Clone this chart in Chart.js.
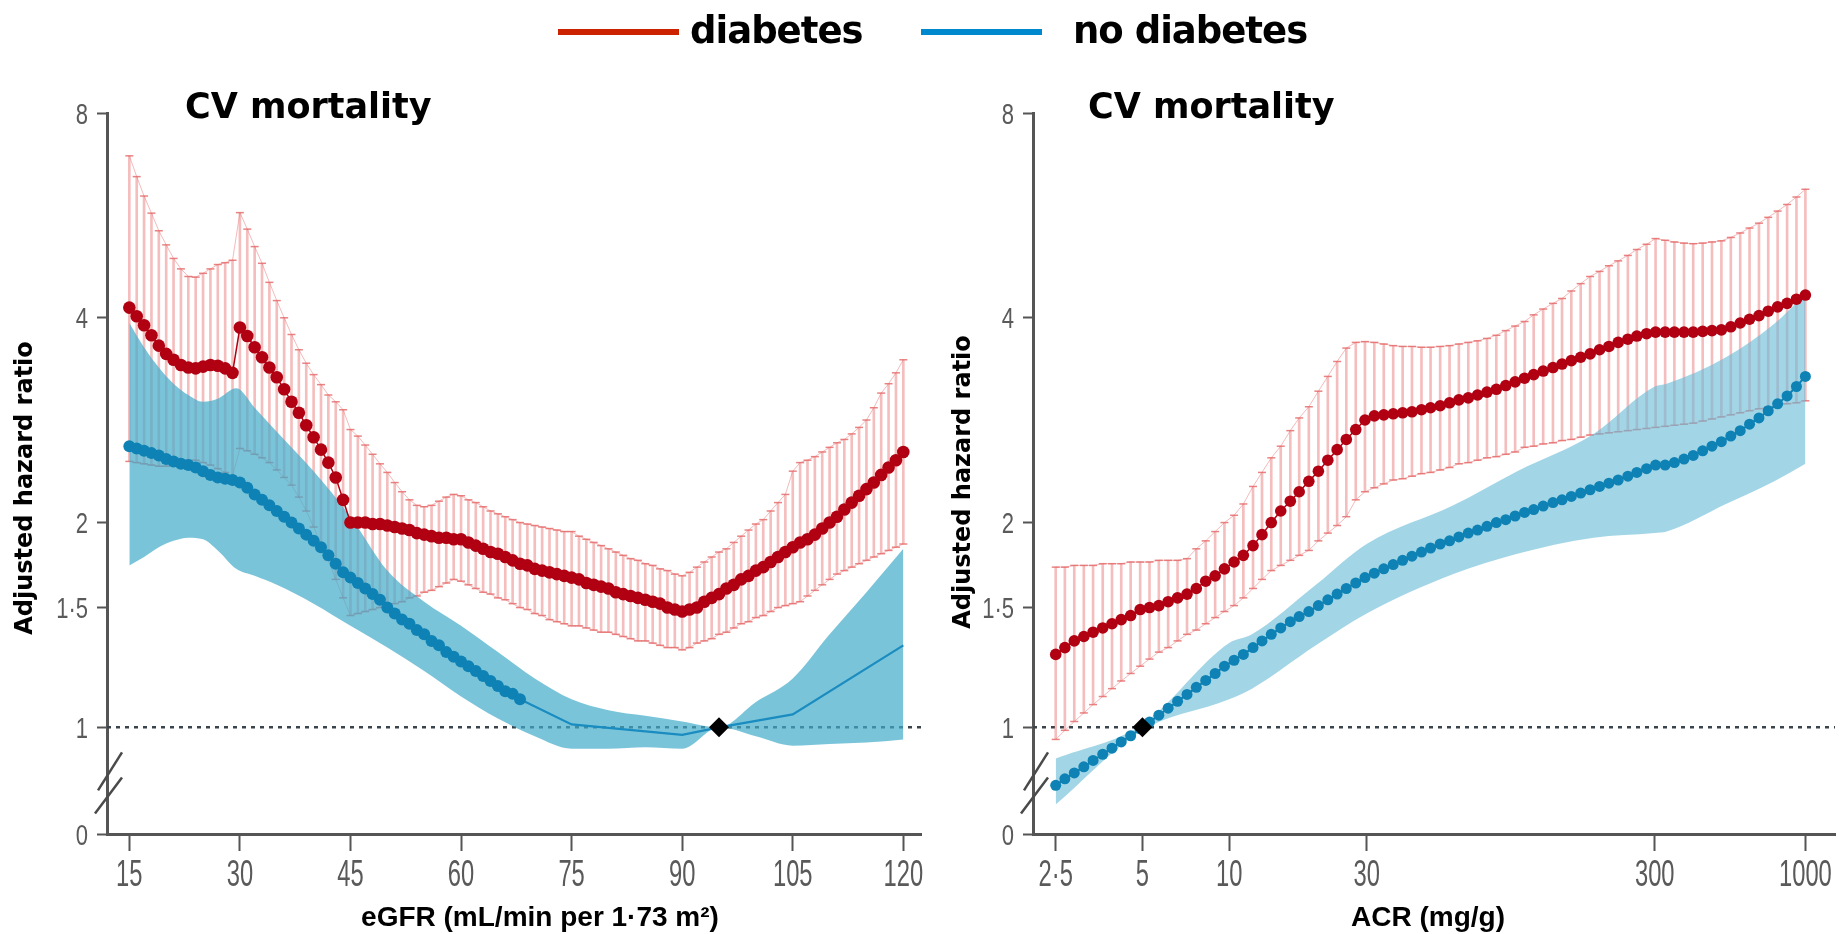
<!DOCTYPE html>
<html lang="en">
<head>
<meta charset="UTF-8">
<title>CV mortality - adjusted hazard ratio by eGFR and ACR</title>
<style>
  html, body { margin: 0; padding: 0; background: #fff; }
  body { width: 1845px; height: 934px; position: relative; overflow: hidden; }
  canvas { position: absolute; left: 0; top: 0; }
</style>
</head>
<body>
<canvas id="egfrChart" width="1845" height="934"></canvas>
<canvas id="acrChart" width="1845" height="934"></canvas>

<script src="https://cdn.jsdelivr.net/npm/chart.js"></script>
<script>
// ---------- data ----------
const yTickValues = [0.697, 1, 1.5, 2, 4, 8];      // bottom tick is the broken "0"
const yTickLabels = ['0', '1', '1·5', '2', '4', '8'];

// left panel: eGFR
const egfrTickValues = [15, 30, 45, 60, 75, 90, 105, 120];
const egfrTickLabels = ['15', '30', '45', '60', '75', '90', '105', '120'];

const egfr = [
  15, 16, 17, 18, 19, 20, 21, 22, 23, 24, 25, 26, 27, 28, 29,
  30, 31, 32, 33, 34, 35, 36, 37, 38, 39, 40, 41, 42, 43, 44,
  45, 46, 47, 48, 49, 50, 51, 52, 53, 54, 55, 56, 57, 58, 59,
  60, 61, 62, 63, 64, 65, 66, 67, 68, 69, 70, 71, 72, 73, 74,
  75, 76, 77, 78, 79, 80, 81, 82, 83, 84, 85, 86, 87, 88, 89,
  90, 91, 92, 93, 94, 95, 96, 97, 98, 99, 100, 101, 102, 103, 104,
  105, 106, 107, 108, 109, 110, 111, 112, 113, 114, 115, 116, 117, 118, 119, 120
];
const egfrDiabetesHR = [
  4.14, 4.02, 3.90, 3.77, 3.64, 3.54, 3.47, 3.41, 3.38, 3.37, 3.39, 3.41, 3.40, 3.37, 3.32,
  3.87, 3.76, 3.62, 3.50, 3.38, 3.27, 3.14, 3.01, 2.90, 2.78, 2.67, 2.56, 2.45, 2.33, 2.16,
  2.00, 2.00, 2.00, 1.99, 1.99, 1.98, 1.97, 1.96, 1.95, 1.93, 1.92, 1.91, 1.90, 1.90, 1.89,
  1.89, 1.87, 1.85, 1.83, 1.81, 1.80, 1.78, 1.76, 1.74, 1.73, 1.71, 1.70, 1.69, 1.68, 1.67,
  1.66, 1.65, 1.63, 1.62, 1.61, 1.60, 1.58, 1.57, 1.56, 1.55, 1.54, 1.53, 1.52, 1.50, 1.49,
  1.48, 1.49, 1.50, 1.53, 1.55, 1.57, 1.60, 1.62, 1.65, 1.67, 1.70, 1.72, 1.75, 1.78, 1.81,
  1.84, 1.87, 1.89, 1.92, 1.96, 2.00, 2.04, 2.09, 2.14, 2.19, 2.24, 2.29, 2.35, 2.41, 2.47, 2.54
];
const egfrDiabetesUpper = [
  6.92, 6.45, 6.04, 5.70, 5.37, 5.12, 4.89, 4.72, 4.60, 4.59, 4.65, 4.72, 4.79, 4.82, 4.86,
  5.71, 5.40, 5.09, 4.81, 4.51, 4.24, 4.00, 3.78, 3.59, 3.43, 3.30, 3.19, 3.08, 3.01, 2.93,
  2.74, 2.68, 2.60, 2.52, 2.44, 2.37, 2.29, 2.22, 2.16, 2.12, 2.11, 2.12, 2.15, 2.18, 2.20,
  2.19, 2.16, 2.14, 2.11, 2.08, 2.06, 2.04, 2.02, 2.00, 1.99, 1.98, 1.97, 1.96, 1.95, 1.94,
  1.94, 1.91, 1.89, 1.87, 1.85, 1.83, 1.81, 1.79, 1.77, 1.76, 1.74, 1.73, 1.71, 1.70, 1.68,
  1.67, 1.69, 1.72, 1.75, 1.78, 1.81, 1.83, 1.87, 1.91, 1.95, 1.99, 2.02, 2.08, 2.14, 2.20,
  2.38, 2.45, 2.47, 2.50, 2.54, 2.58, 2.62, 2.65, 2.70, 2.76, 2.83, 2.95, 3.10, 3.20, 3.32, 3.47
];
const egfrDiabetesLower = [
  2.46, 2.45, 2.44, 2.43, 2.42, 2.42, 2.43, 2.45, 2.47, 2.47, 2.45, 2.43, 2.40, 2.37, 2.34,
  2.57, 2.55, 2.52, 2.49, 2.45, 2.39, 2.33, 2.27, 2.18, 2.08, 1.97, 1.86, 1.76, 1.65, 1.55,
  1.46, 1.47, 1.48, 1.49, 1.50, 1.51, 1.52, 1.53, 1.55, 1.56, 1.58, 1.59, 1.61, 1.63, 1.65,
  1.64, 1.62, 1.60, 1.58, 1.57, 1.55, 1.54, 1.52, 1.50, 1.49, 1.47, 1.46, 1.44, 1.43, 1.42,
  1.41, 1.41, 1.40, 1.39, 1.38, 1.38, 1.37, 1.36, 1.35, 1.34, 1.34, 1.33, 1.32, 1.31, 1.31,
  1.30, 1.31, 1.33, 1.34, 1.35, 1.37, 1.38, 1.40, 1.42, 1.43, 1.45, 1.46, 1.48, 1.50, 1.51,
  1.52, 1.53, 1.56, 1.59, 1.62, 1.65, 1.68, 1.70, 1.72, 1.74, 1.76, 1.78, 1.80, 1.82, 1.84, 1.86
];

const egfrNoDiabetesX = [
  15, 16, 17, 18, 19, 20, 21, 22, 23, 24, 25, 26, 27, 28, 29,
  30, 31, 32, 33, 34, 35, 36, 37, 38, 39, 40, 41, 42, 43, 44,
  45, 46, 47, 48, 49, 50, 51, 52, 53, 54, 55, 56, 57, 58, 59,
  60, 61, 62, 63, 64, 65, 66, 67, 68
];
const egfrNoDiabetesHR = [
  2.59, 2.57, 2.55, 2.53, 2.51, 2.48, 2.46, 2.44, 2.43, 2.41, 2.38, 2.35, 2.33, 2.32, 2.31,
  2.29, 2.25, 2.20, 2.16, 2.12, 2.08, 2.04, 2.00, 1.96, 1.92, 1.88, 1.84, 1.79, 1.74, 1.69,
  1.66, 1.63, 1.60, 1.57, 1.54, 1.50, 1.47, 1.44, 1.42, 1.39, 1.37, 1.34, 1.32, 1.29, 1.27,
  1.25, 1.23, 1.21, 1.19, 1.17, 1.15, 1.13, 1.12, 1.10
];
const egfrNoDiabetesLineX = [68, 75, 90, 95, 105, 120];
const egfrNoDiabetesLineHR = [1.10, 1.01, 0.975, 1.0, 1.045, 1.32];

const egfrBandX = [15, 17, 19, 21, 23, 25, 27, 29.5, 32, 35, 40, 45, 50, 55, 60, 65, 70, 75, 80, 85, 90, 95, 100, 105, 110, 115, 120];
const egfrBandUpper = [3.93, 3.62, 3.38, 3.20, 3.08, 3.01, 3.04, 3.15, 2.95, 2.72, 2.38, 2.04, 1.70, 1.53, 1.41, 1.29, 1.18, 1.10, 1.06, 1.04, 1.02, 1.00, 1.09, 1.18, 1.37, 1.58, 1.83];
const egfrBandLower = [1.73, 1.78, 1.84, 1.88, 1.90, 1.89, 1.82, 1.71, 1.67, 1.62, 1.52, 1.41, 1.31, 1.21, 1.11, 1.03, 0.97, 0.93, 0.93, 0.935, 0.93, 1.00, 0.97, 0.94, 0.945, 0.95, 0.96];
const egfrReference = 95;

// right panel: ACR
const acrTickValues = [2.5, 5, 10, 30, 300, 1000];
const acrTickLabels = ['2·5', '5', '10', '30', '300', '1000'];

const acr = [
  2.5, 2.69, 2.9, 3.13, 3.37, 3.64, 3.92, 4.22, 4.55, 4.91,
  5.29, 5.7, 6.14, 6.62, 7.14, 7.69, 8.29, 8.94, 9.63, 10.4,
  11.2, 12.1, 13, 14, 15.1, 16.3, 17.5, 18.9, 20.4, 22,
  23.7, 25.5, 27.5, 29.6, 31.9, 34.4, 37.1, 40, 43.1, 46.5,
  50, 54, 58.2, 62.7, 67.6, 72.8, 78.5, 84.6, 91.2, 98.3,
  106, 114, 123, 133, 143, 154, 166, 179, 193, 208,
  224, 242, 260, 281, 302, 326, 351, 379, 408, 440,
  474, 511, 551, 594, 640, 690, 743, 801, 864, 931, 1000
];
const acrDiabetesHR = [
  1.28, 1.31, 1.34, 1.36, 1.38, 1.40, 1.42, 1.44, 1.46, 1.49,
  1.50, 1.51, 1.53, 1.55, 1.57, 1.60, 1.64, 1.67, 1.71, 1.75,
  1.79, 1.85, 1.92, 2.00, 2.08, 2.15, 2.22, 2.30, 2.38, 2.47,
  2.56, 2.65, 2.74, 2.83, 2.87, 2.88, 2.89, 2.90, 2.91, 2.93,
  2.95, 2.97, 3.00, 3.03, 3.05, 3.08, 3.11, 3.14, 3.18, 3.22,
  3.26, 3.30, 3.34, 3.38, 3.42, 3.46, 3.50, 3.54, 3.59, 3.63,
  3.68, 3.72, 3.76, 3.79, 3.81, 3.81, 3.81, 3.81, 3.81, 3.82,
  3.83, 3.84, 3.88, 3.93, 3.98, 4.03, 4.09, 4.15, 4.20, 4.26, 4.32
];
const acrDiabetesUpper = [
  1.72, 1.72, 1.73, 1.73, 1.73, 1.74, 1.74, 1.74, 1.75, 1.75,
  1.75, 1.76, 1.76, 1.76, 1.77, 1.83, 1.88, 1.94, 2.00, 2.05,
  2.13, 2.26, 2.37, 2.49, 2.59, 2.73, 2.85, 2.96, 3.12, 3.28,
  3.45, 3.61, 3.68, 3.69, 3.68, 3.66, 3.64, 3.63, 3.63, 3.62,
  3.62, 3.63, 3.64, 3.66, 3.68, 3.70, 3.73, 3.77, 3.83, 3.89,
  3.95, 4.04, 4.12, 4.20, 4.27, 4.38, 4.49, 4.60, 4.68, 4.77,
  4.85, 4.94, 5.04, 5.13, 5.23, 5.20, 5.17, 5.15, 5.14, 5.15,
  5.17, 5.19, 5.25, 5.33, 5.42, 5.51, 5.62, 5.74, 5.87, 6.02, 6.18
];
const acrDiabetesLower = [
  0.96, 0.99, 1.02, 1.05, 1.08, 1.11, 1.14, 1.17, 1.20, 1.23,
  1.26, 1.29, 1.31, 1.34, 1.37, 1.39, 1.42, 1.45, 1.48, 1.51,
  1.55, 1.60, 1.65, 1.70, 1.73, 1.76, 1.79, 1.82, 1.88, 1.93,
  1.98, 2.04, 2.16, 2.22, 2.25, 2.28, 2.31, 2.32, 2.34, 2.36,
  2.37, 2.39, 2.41, 2.44, 2.45, 2.47, 2.49, 2.50, 2.52, 2.54,
  2.58, 2.59, 2.61, 2.62, 2.64, 2.65, 2.67, 2.69, 2.70, 2.71,
  2.72, 2.73, 2.74, 2.75, 2.76, 2.77, 2.78, 2.79, 2.80, 2.82,
  2.84, 2.86, 2.88, 2.90, 2.92, 2.94, 2.96, 2.97, 2.99, 3.00, 3.02
];
const acrNoDiabetesHR = [
  0.822, 0.84, 0.857, 0.875, 0.894, 0.913, 0.932, 0.952, 0.972, 0.995,
  1.018, 1.042, 1.067, 1.092, 1.118, 1.145, 1.172, 1.20, 1.23, 1.255,
  1.28, 1.31, 1.34, 1.37, 1.40, 1.43, 1.455, 1.48, 1.51, 1.54,
  1.57, 1.60, 1.63, 1.66, 1.685, 1.71, 1.735, 1.76, 1.785, 1.81,
  1.835, 1.86, 1.88, 1.905, 1.93, 1.95, 1.975, 2.00, 2.02, 2.045,
  2.07, 2.09, 2.115, 2.14, 2.16, 2.185, 2.21, 2.235, 2.26, 2.285,
  2.31, 2.34, 2.37, 2.40, 2.43, 2.43, 2.45, 2.48, 2.51, 2.55,
  2.59, 2.63, 2.68, 2.73, 2.79, 2.85, 2.92, 2.99, 3.07, 3.17, 3.28
];
const acrBandX = [2.5, 5, 10, 12, 20, 30, 60, 100, 184, 300, 330, 530, 780, 1000];
const acrBandUpper = [0.90, 1.01, 1.33, 1.37, 1.62, 1.86, 2.12, 2.38, 2.70, 3.17, 3.20, 3.50, 3.92, 4.34];
const acrBandLower = [0.77, 0.99, 1.10, 1.14, 1.32, 1.47, 1.68, 1.80, 1.90, 1.93, 1.94, 2.13, 2.30, 2.44];
const acrReference = 5;

// ---------- drawing ----------
const axisGrey = '#555';

// tick labels (condensed, like the printed figure), titles, legend and the axis break
const panelText = {
  id: 'panelText',
  afterDraw(chart, args, o) {
    const { ctx, chartArea: a } = chart;
    const xs = chart.scales.x;
    const ys = chart.scales.y;
    ctx.save();

    // broken axis "//" between 1 and 0
    ctx.strokeStyle = '#4a4a4a';
    ctx.lineWidth = 2.5;
    [[0.808, 0.919, 9], [0.747, 0.844, 12]].forEach(([v0, v1, dx]) => {
      ctx.beginPath();
      ctx.moveTo(a.left - dx, ys.getPixelForValue(v0));
      ctx.lineTo(a.left + 15, ys.getPixelForValue(v1));
      ctx.stroke();
    });

    // tick labels taken from the scales
    ctx.fillStyle = '#5a5a5a';
    ctx.textBaseline = 'alphabetic';
    ctx.textAlign = 'center';
    ctx.font = '36px "Liberation Sans"';
    xs.ticks.forEach((t, i) => {
      ctx.save();
      ctx.translate(xs.getPixelForTick(i), a.bottom + 52);
      ctx.scale(0.66, 1);
      ctx.fillText(t.label, 0, 0);
      ctx.restore();
    });
    ctx.textAlign = 'right';
    ctx.font = '29px "Liberation Sans"';
    ys.ticks.forEach((t, i) => {
      ctx.save();
      ctx.translate(a.left - 19, ys.getPixelForTick(i) + 10.5);
      ctx.scale(0.76, 1);
      ctx.fillText(t.label, 0, 0);
      ctx.restore();
    });

    ctx.fillStyle = '#000';
    ctx.textAlign = 'left';
    ctx.font = 'bold 35px "DejaVu Sans"';
    ctx.fillText(o.title, o.titleX, 118);

    ctx.textAlign = 'center';
    ctx.font = 'bold 28px "Liberation Sans"';
    ctx.fillText(o.xTitle, o.xTitleX, 926);

    ctx.save();
    ctx.translate(o.yTitleX, o.yTitleY);
    ctx.rotate(-Math.PI / 2);
    ctx.textBaseline = 'middle';
    ctx.font = 'bold 24px "DejaVu Sans"';
    ctx.fillText('Adjusted hazard ratio', 0, 0);
    ctx.restore();

    if (o.legend) {
      ctx.fillStyle = '#cc2200';
      ctx.fillRect(558, 29, 121, 6);
      ctx.fillStyle = '#0088cc';
      ctx.fillRect(921, 29, 121, 6);
      ctx.fillStyle = '#000';
      ctx.textAlign = 'left';
      ctx.font = 'bold 37px "DejaVu Sans"';
      ctx.letterSpacing = '-1px';
      ctx.fillText('diabetes', 690, 43);
      ctx.fillText('no diabetes', 1073, 43);
    }
    ctx.restore();
  }
};

function points(xs, ys) {
  return xs.map((x, i) => ({ x, y: ys[i] }));
}

function buildPanel(canvasId, p) {
  const datasets = [
    { // reference HR = 1
      type: 'line', data: [{ x: p.xMin, y: 1 }, { x: p.xMax, y: 1 }],
      borderColor: '#3a444d', borderWidth: 2.5, borderDash: [4, 5], pointRadius: 0, order: 9
    },
    { // diabetes 95% CI bars
      type: 'bar', data: p.x.map((x, i) => ({ x, y: [p.lo[i], p.hi[i]] })),
      backgroundColor: 'rgba(232,110,110,0.45)', borderWidth: 0, barThickness: 2, order: 8
    },
    { // upper caps
      type: 'line', data: points(p.x, p.hi),
      borderColor: 'rgba(232,120,120,0.5)', borderWidth: 1,
      pointStyle: 'line', pointRadius: 4, pointBorderWidth: 1.5, pointBorderColor: 'rgba(230,110,110,0.85)', order: 7
    },
    { // lower caps
      type: 'line', data: points(p.x, p.lo),
      borderColor: 'rgba(232,120,120,0.5)', borderWidth: 1,
      pointStyle: 'line', pointRadius: 4, pointBorderWidth: 1.5, pointBorderColor: 'rgba(230,110,110,0.85)', order: 7
    },
    { // no diabetes CI band, upper edge
      type: 'line', data: points(p.bandX, p.bandHi),
      borderColor: 'transparent', borderWidth: 0, pointRadius: 0, fill: false,
      cubicInterpolationMode: 'monotone', order: 6
    },
    { // lower edge, filled up to the upper edge
      type: 'line', data: points(p.bandX, p.bandLo),
      borderColor: 'transparent', borderWidth: 0, pointRadius: 0, fill: '-1',
      backgroundColor: p.bandColor, cubicInterpolationMode: 'monotone', order: 6
    }
  ];
  if (p.lineX) {
    datasets.push({
      type: 'line', data: points(p.lineX, p.lineHR),
      borderColor: '#1a8cc0', borderWidth: 2.2, pointRadius: 0, order: 5
    });
  }
  datasets.push(
    { // no diabetes
      type: 'line', data: points(p.blueX, p.blueHR),
      borderColor: '#0e82b4', borderWidth: 2, pointRadius: p.blueRadius, pointBackgroundColor: '#0e82b4',
      pointBorderWidth: 0, order: 4
    },
    { // diabetes
      type: 'line', data: points(p.x, p.hr),
      borderColor: '#b00012', borderWidth: 1.5, pointRadius: p.redRadius, pointBackgroundColor: '#b00012',
      pointBorderWidth: 0, order: 3
    },
    { // reference point
      type: 'line', data: [{ x: p.refX, y: 1 }],
      pointStyle: 'rectRot', pointRadius: 10, pointBackgroundColor: '#000', pointBorderWidth: 0,
      showLine: false, order: 1
    }
  );

  return new Chart(document.getElementById(canvasId), {
    type: 'line',
    data: { datasets },
    plugins: [panelText],
    options: {
      responsive: false,
      animation: false,
      events: [],
      layout: { padding: { top: 113, right: p.padRight, bottom: 0, left: 0 } },
      plugins: {
        legend: { display: false },
        tooltip: { enabled: false },
        panelText: p.text
      },
      scales: {
        x: {
          type: p.xType, min: p.xMin, max: p.xMax, offset: false,
          afterBuildTicks: s => { s.ticks = p.xTicks.map(v => ({ value: v })); },
          afterFit: s => { s.height = 100; },
          ticks: { display: false, callback: (v, i) => p.xLabels[i], autoSkip: false, maxRotation: 0 },
          grid: {
            offset: false, drawOnChartArea: false, drawTicks: true,
            tickLength: 17, tickWidth: 2, tickColor: axisGrey
          },
          border: { display: true, color: axisGrey, width: 3 }
        },
        y: {
          type: 'logarithmic', min: 0.697, max: 8,
          afterBuildTicks: s => { s.ticks = yTickValues.map(v => ({ value: v })); },
          afterFit: s => { s.width = p.axisLeft; },
          ticks: { display: false, callback: (v, i) => yTickLabels[i], autoSkip: false },
          grid: {
            offset: false, drawOnChartArea: false, drawTicks: true,
            tickLength: 10, tickWidth: 2, tickColor: axisGrey
          },
          border: { display: true, color: axisGrey, width: 3 }
        }
      }
    }
  });
}

buildPanel('egfrChart', {
  x: egfr, hr: egfrDiabetesHR, hi: egfrDiabetesUpper, lo: egfrDiabetesLower,
  blueX: egfrNoDiabetesX, blueHR: egfrNoDiabetesHR,
  lineX: egfrNoDiabetesLineX, lineHR: egfrNoDiabetesLineHR,
  bandX: egfrBandX, bandHi: egfrBandUpper, bandLo: egfrBandLower,
  bandColor: 'rgba(65,171,202,0.7)',
  refX: egfrReference, redRadius: 6.3, blueRadius: 6,
  xType: 'linear', xMin: 11.97, xMax: 122.4, xTicks: egfrTickValues, xLabels: egfrTickLabels,
  axisLeft: 107, padRight: 924,
  text: {
    title: 'CV mortality', titleX: 185,
    xTitle: 'eGFR (mL/min per 1·73 m²)', xTitleX: 540,
    yTitleX: 26, yTitleY: 488, legend: true
  }
});

buildPanel('acrChart', {
  x: acr, hr: acrDiabetesHR, hi: acrDiabetesUpper, lo: acrDiabetesLower,
  blueX: acr, blueHR: acrNoDiabetesHR,
  bandX: acrBandX, bandHi: acrBandUpper, bandLo: acrBandLower,
  bandColor: 'rgba(105,188,214,0.62)',
  refX: acrReference, redRadius: 5.8, blueRadius: 5.5,
  xType: 'logarithmic', xMin: 2.085, xMax: 1267, xTicks: acrTickValues, xLabels: acrTickLabels,
  axisLeft: 1033, padRight: 0,
  text: {
    title: 'CV mortality', titleX: 1088,
    xTitle: 'ACR (mg/g)', xTitleX: 1428,
    yTitleX: 964, yTitleY: 482, legend: false
  }
});
</script>
</body>
</html>
